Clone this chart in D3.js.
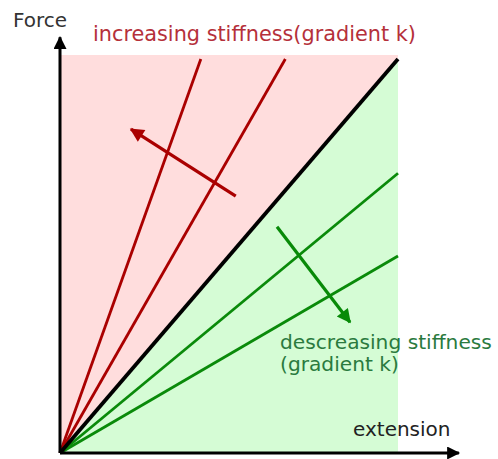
<!DOCTYPE html>
<html>
<head>
<meta charset="utf-8">
<script src="https://cdn.jsdelivr.net/npm/d3@7"></script>
<style>
  html, body { margin: 0; padding: 0; background: #fff; }
  svg { display: block; }
  text { font-family: "DejaVu Sans", Verdana, sans-serif; }
</style>
</head>
<body>
<svg id="chart" width="498" height="459"></svg>
<script>
// ---- data ----
const stifferGradients = [2.4, 1.5];      // red lines (increasing stiffness)
const referenceGradient = [1.0];          // black line
const softerGradients = [0.71, 0.5];      // green lines (decreasing stiffness)
const redArrow = [[0.52, 0.652], [0.21, 0.822]];    // tail -> tip (data units)
const greenArrow = [[0.642, 0.574], [0.858, 0.332]];
const axisLabels = ["Force", "extension"];
const annotationRed = ["increasing stiffness(gradient k)"];
const annotationGreen = ["descreasing stiffness", "(gradient k)"];

// ---- scales ----
const x = d3.scaleLinear().domain([0, 1]).range([60, 398]);
const y = d3.scaleLinear().domain([0, 1]).range([453, 59]);
const yTop = 1.01, xAxisEnd = 1.18, yAxisEnd = 1.055;

const svg = d3.select("#chart");

const defs = svg.append("defs");
function marker(id, color, w, h) {
  defs.append("marker").attr("id", id)
    .attr("viewBox", "0 0 10 10").attr("refX", 9).attr("refY", 5)
    .attr("markerUnits", "userSpaceOnUse")
    .attr("markerWidth", w).attr("markerHeight", h).attr("orient", "auto")
    .append("path").attr("d", "M0,0 L10,5 L0,10 Z").attr("fill", color);
}
marker("arrBlack", "#000", 16, 13);
marker("arrRed", "#aa0000", 16, 14);
marker("arrGreen", "#088a08", 16, 14);

const line = d3.line().x(d => x(d[0])).y(d => y(d[1]));

// regions
svg.append("path")
  .attr("d", line([[0, 0], [0, yTop], [1, yTop], [1, 1]]) + "Z")
  .attr("fill", "#ffdddd");
svg.append("path")
  .attr("d", line([[0, 0], [1, 1], [1, 0]]) + "Z")
  .attr("fill", "#d5fcd5");

function ray(k) { const xe = Math.min(1, 1 / k); return [[0, 0], [xe, xe * k]]; }

svg.selectAll(".red").data(stifferGradients).enter().append("path")
  .attr("d", k => line(ray(k))).attr("stroke", "#aa0000")
  .attr("stroke-width", 2.8).attr("fill", "none");
svg.selectAll(".green").data(softerGradients).enter().append("path")
  .attr("d", k => line(ray(k))).attr("stroke", "#0a8a0a")
  .attr("stroke-width", 2.8).attr("fill", "none");
svg.selectAll(".black").data(referenceGradient).enter().append("path")
  .attr("d", k => line(ray(k))).attr("stroke", "#000")
  .attr("stroke-width", 3.8).attr("fill", "none");

// arrows
svg.append("path").attr("d", line(redArrow)).attr("stroke", "#aa0000")
  .attr("stroke-width", 3.2).attr("fill", "none").attr("marker-end", "url(#arrRed)");
svg.append("path").attr("d", line(greenArrow)).attr("stroke", "#088a08")
  .attr("stroke-width", 3.2).attr("fill", "none").attr("marker-end", "url(#arrGreen)");

// axes
svg.append("path").attr("d", line([[0, 0], [0, yAxisEnd]])).attr("stroke", "#000")
  .attr("stroke-width", 3).attr("fill", "none").attr("marker-end", "url(#arrBlack)");
svg.append("path").attr("d", line([[0, 0], [xAxisEnd, 0]])).attr("stroke", "#000")
  .attr("stroke-width", 3).attr("fill", "none").attr("marker-end", "url(#arrBlack)");

// labels
svg.append("text").attr("x", 13).attr("y", 27).attr("font-size", 20)
  .attr("fill", "#333").text(axisLabels[0]);
svg.append("text").attr("x", 353).attr("y", 436).attr("font-size", 20)
  .attr("fill", "#222").text(axisLabels[1]);
svg.append("text").attr("x", 93).attr("y", 41).attr("font-size", 20.8)
  .attr("fill", "#b5303a").text(annotationRed[0]);
const gt = svg.append("text").attr("font-size", 20.2).attr("fill", "#2a7a3e");
annotationGreen.forEach((s, i) => {
  gt.append("tspan").attr("x", 280).attr("y", 349 + i * 22).text(s);
});
</script>
</body>
</html>
